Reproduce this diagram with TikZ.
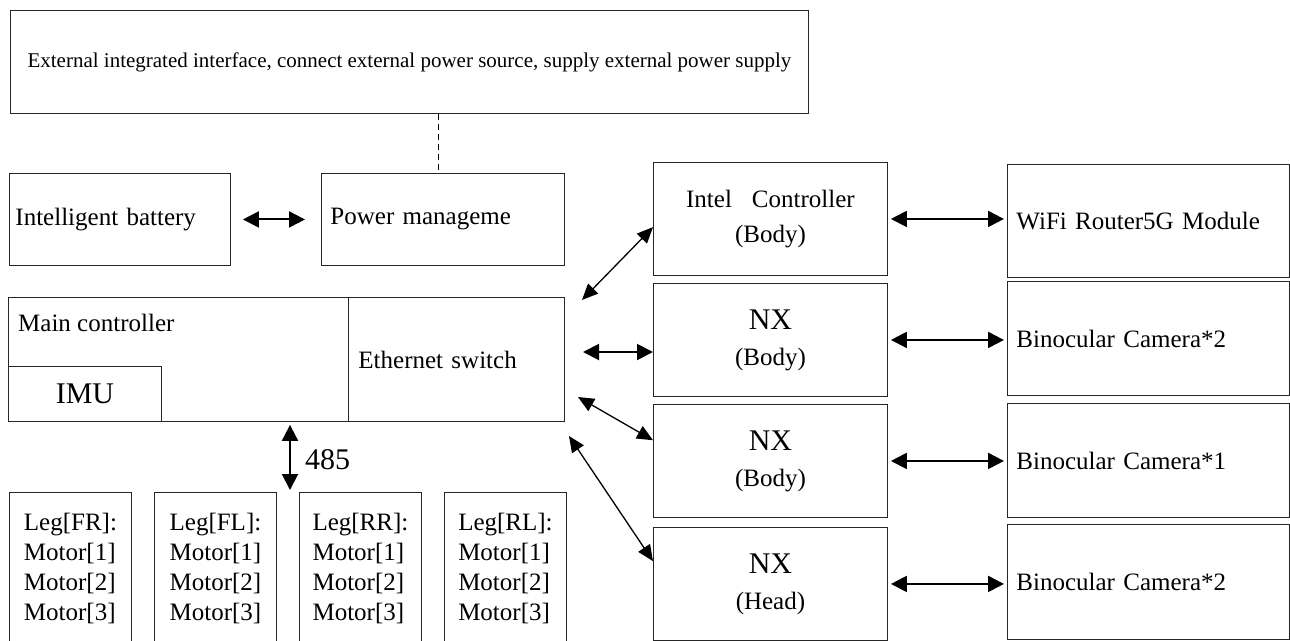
\documentclass[tikz,border=0pt]{standalone}
\usepackage{fontspec}
\setmainfont{Liberation Serif}
\usetikzlibrary{positioning,arrows.meta}

\begin{document}
\begin{tikzpicture}[x=1pt,y=-1pt,
  blk/.style={draw=black!85,rectangle,anchor=north west,inner sep=0pt,line width=0.9pt},
  txt/.style={font=\fontsize{25}{30}\selectfont},
  both/.style={{Triangle[length=16pt,width=16pt]}-{Triangle[length=16pt,width=16pt]},line width=2pt},
  slim/.style={{Triangle[length=16pt,width=14pt]}-{Triangle[length=16pt,width=14pt]},line width=1.3pt}]
  \useasboundingbox (0,0) rectangle (1290,640);

  % power side
  \node[blk,minimum width=798,minimum height=103,font=\fontsize{21}{25}\selectfont] (ext) at (10,10)
    {External integrated interface, connect external power source, supply external power supply};
  \node[blk,txt,minimum height=92,text width=209,inner xsep=6,align=left] (bat) at (9,173) {Intelligent battery};
  \node[blk,txt,minimum height=92,text width=225,inner xsep=9,align=left] (pwr) at (321,173) {Power manageme};
  \coordinate (dash) at (438,140);
  \draw[dashed,dash pattern=on 6pt off 4pt,line width=0.9pt] (ext.south -| dash) -- (pwr.north -| dash);
  \draw[both,shorten <=12pt,shorten >=16pt] (bat) -- (pwr);

  % main controller
  \node[blk,minimum width=556,minimum height=124] (mc) at (8,297) {};
  \node[txt,anchor=west,inner sep=0pt] (mctext) at (18,323) {Main controller};
  \node[blk,txt,minimum height=124,text width=196,inner xsep=10,align=left] (eth) at (348,297) {Ethernet switch};
  \node[blk,minimum width=153,minimum height=55,font=\fontsize{30}{34}\selectfont] (imu) at (8,366) {IMU};

  % legs
  \foreach \x/\n/\t in {9/fr/FR, 154/fl/FL, 299/rr/RR, 444/rl/RL}
    \node[blk,txt,minimum width=122,minimum height=152,align=left] (leg\n) at (\x,492)
      {Leg[\t]:\\Motor[1]\\Motor[2]\\Motor[3]};
  \coordinate (bus) at (290,455);
  \draw[both,shorten <=3pt,shorten >=2pt] (mc.south -| bus) -- (legfl.north -| bus);
  \node[anchor=west,inner sep=0pt,font=\fontsize{30}{34}\selectfont] (baud) at (305,460) {485};

  % computers
  \node[blk,minimum width=234,minimum height=113,align=center,font=\fontsize{25}{35}\selectfont] (intel) at (653,162)
    {Intel\hspace{0.8em}Controller\\(Body)};
  \foreach \y/\n/\t in {283/nxa/Body, 404/nxb/Body, 527/nxh/Head}
    \node[blk,minimum width=234,minimum height=113,align=center,font=\fontsize{25}{36}\selectfont] (\n) at (653,\y)
      {{\fontsize{30}{36}\selectfont NX}\\(\t)};

  \foreach \y/\h/\n/\t in {164/113/wifi/WiFi Router5G Module, 281/114/cama/Binocular Camera*2,
    403/114/camb/Binocular Camera*1, 524/115/camc/Binocular Camera*2}
    \node[blk,txt,minimum height=\h,text width=264,inner xsep=9,align=left] (\n) at (1007,\y) {\t};

  \foreach \s/\t in {intel/wifi, nxa/cama, nxb/camb, nxh/camc}
    \draw[both,shorten <=3pt,shorten >=3pt] (\s.east) -- (\s.east -| \t.west);

  % switch links
  \coordinate (ea) at (582,300);
  \coordinate (eb) at (583,352);
  \coordinate (ec) at (578,397);
  \coordinate (ed) at (569,436);
  \draw[slim] (ea) -- (intel.184);
  \draw[both] (eb) -- (nxa.west |- eb);
  \draw[slim] (ec) -- (nxb.170);
  \draw[slim] (ed) -- (nxh.169);

\end{tikzpicture}
\end{document}
